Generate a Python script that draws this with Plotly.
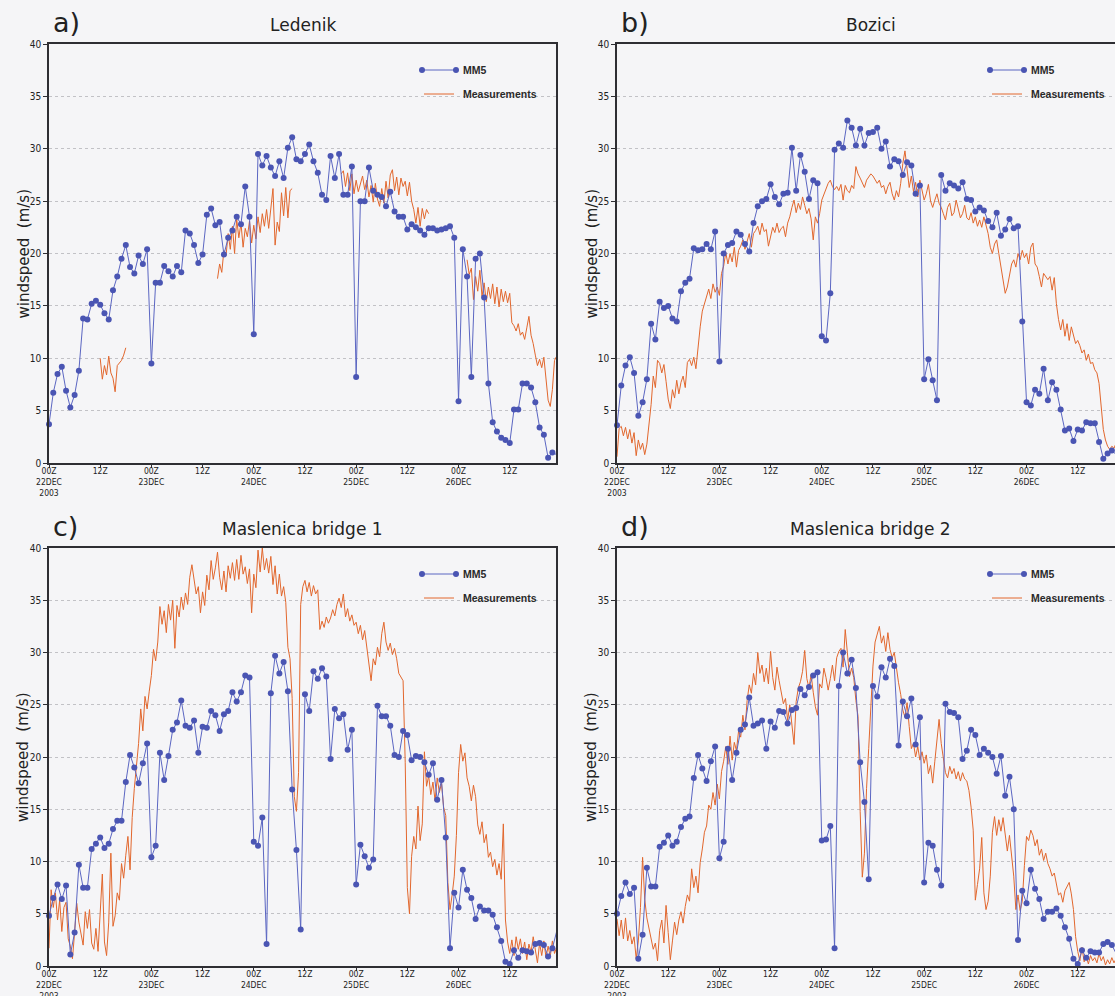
import numpy as np
import plotly.graph_objects as go

# ---------------- data (hours since 00Z 22 DEC 2003) ----------------
tick_hours = [0, 12, 24, 36, 48, 60, 72, 84, 96, 108]
tick_text = ["00Z<br>22DEC<br>2003", "12Z", "00Z<br>23DEC", "12Z", "00Z<br>24DEC",
             "12Z", "00Z<br>25DEC", "12Z", "00Z<br>26DEC", "12Z"]

station_names = ["Ledenik", "Bozici", "Maslenica bridge 1", "Maslenica bridge 2"]
panel_letters = ["a)", "b)", "c)", "d)"]

# MM5 hourly windspeed (m/s), hour 0 .. 119
mm5_a = [3.7, 6.7, 8.5, 9.2, 6.9, 5.3, 6.5, 8.8, 13.8, 13.7,
         15.2, 15.5, 15.1, 14.3, 13.7, 16.5, 17.8, 19.5, 20.8, 18.7,
         18.1, 19.8, 19.0, 20.4, 9.5, 17.2, 17.2, 18.8, 18.3, 17.8,
         18.8, 18.2, 22.2, 21.9, 20.8, 19.1, 19.9, 23.7, 24.3, 22.7,
         23.0, 19.9, 21.5, 22.2, 23.5, 22.8, 26.4, 23.5, 12.3, 29.5,
         28.4, 29.3, 28.2, 27.4, 28.8, 27.2, 30.1, 31.1, 29.0, 28.8,
         29.5, 30.4, 28.8, 27.7, 25.6, 25.1, 29.3, 27.2, 29.5, 25.6,
         25.6, 28.3, 8.2, 25.0, 25.0, 28.2, 26.0, 25.6, 25.4, 24.5,
         25.9, 24.0, 23.5, 23.5, 22.3, 22.8, 22.5, 22.2, 21.8, 22.4,
         22.4, 22.2, 22.3, 22.4, 22.6, 21.5, 5.9, 20.4, 17.8, 8.2,
         19.5, 20.0, 15.8, 7.6, 3.9, 3.0, 2.4, 2.2, 1.9, 5.1,
         5.1, 7.6, 7.6, 7.2, 5.8, 3.4, 2.7, 0.5, 1.0, 0.8]

mm5_b = [3.6, 7.4, 9.3, 10.1, 8.6, 4.5, 5.8, 8.0, 13.3, 11.8,
         15.4, 14.8, 15.0, 13.8, 13.5, 16.4, 17.2, 17.6, 20.5, 20.3,
         20.4, 20.9, 20.4, 22.1, 9.7, 20.0, 20.8, 21.0, 22.1, 21.8,
         20.9, 20.2, 22.9, 24.5, 25.0, 25.2, 26.6, 25.4, 24.7, 25.7,
         25.8, 30.1, 26.0, 29.4, 27.8, 25.2, 27.0, 26.7, 12.1, 11.7,
         16.2, 29.9, 30.5, 30.1, 32.7, 32.0, 30.3, 31.9, 30.3, 31.5,
         31.6, 32.0, 30.0, 30.7, 28.3, 29.0, 28.8, 27.5, 28.7, 28.4,
         25.7, 26.5, 8.0, 9.9, 7.9, 6.0, 27.5, 26.0, 26.7, 26.5,
         26.2, 26.8, 25.2, 25.1, 24.0, 24.4, 24.1, 23.1, 22.5, 23.9,
         21.7, 22.3, 23.3, 22.4, 22.6, 13.5, 5.8, 5.5, 7.0, 6.6,
         9.0, 6.0, 7.7, 7.0, 5.1, 3.1, 3.3, 2.1, 3.2, 3.1,
         3.9, 3.8, 3.8, 2.0, 0.4, 0.9, 1.2, 0.8, 1.0, 0.9]

mm5_c = [4.8, 6.5, 7.8, 6.4, 7.7, 1.1, 3.2, 9.7, 7.5, 7.5,
         11.2, 11.7, 12.3, 11.3, 11.7, 13.1, 13.9, 13.9, 17.6, 20.2,
         19.0, 17.5, 19.4, 21.3, 10.4, 11.5, 20.4, 17.8, 20.1, 22.6,
         23.3, 25.4, 23.0, 22.8, 23.5, 20.4, 22.9, 22.8, 24.4, 24.0,
         22.5, 24.1, 24.4, 26.2, 25.3, 26.2, 27.8, 27.6, 11.9, 11.5,
         14.2, 2.1, 26.1, 29.7, 28.0, 29.1, 26.3, 16.9, 11.1, 3.5,
         26.0, 24.4, 28.2, 27.5, 28.5, 27.7, 19.8, 24.6, 23.7, 24.1,
         20.7, 22.6, 7.8, 11.6, 10.5, 9.4, 10.2, 24.9, 23.9, 23.9,
         23.0, 20.2, 20.0, 22.5, 22.1, 19.7, 20.1, 20.0, 19.5, 18.3,
         19.4, 15.9, 17.8, 12.3, 1.7, 7.0, 5.6, 9.2, 7.3, 6.5,
         4.5, 5.7, 5.3, 5.3, 4.9, 3.7, 2.4, 0.4, 0.2, 1.5,
         0.8, 1.5, 1.4, 1.3, 2.1, 2.2, 2.0, 0.9, 1.7, 3.3]

mm5_d = [5.0, 6.7, 8.0, 6.9, 7.5, 0.7, 3.0, 9.4, 7.6, 7.6,
         11.4, 11.8, 12.5, 11.5, 11.9, 13.3, 14.1, 14.3, 18.0, 20.2,
         18.9, 17.7, 19.6, 21.0, 10.3, 11.9, 20.8, 17.8, 20.4, 22.6,
         23.1, 25.7, 23.0, 23.2, 23.5, 20.8, 23.4, 22.8, 24.4, 24.3,
         23.2, 24.5, 24.7, 26.5, 25.9, 26.7, 27.8, 28.1, 12.0, 12.1,
         13.4, 1.7, 26.8, 30.0, 28.0, 29.3, 26.6, 19.5, 15.7, 8.3,
         26.8, 25.8, 28.6, 27.6, 29.4, 28.7, 21.1, 25.3, 23.9, 25.6,
         21.2, 23.8, 8.0, 11.8, 11.5, 9.2, 7.7, 25.1, 24.3, 24.2,
         23.8, 19.8, 20.6, 22.6, 22.1, 20.2, 20.8, 20.4, 20.0, 18.4,
         20.1, 16.3, 18.1, 15.0, 2.5, 7.2, 6.0, 9.2, 7.4, 6.4,
         4.5, 5.2, 5.2, 5.5, 4.8, 3.7, 2.6, 0.7, 0.2, 1.5,
         0.8, 1.4, 1.3, 1.3, 2.1, 2.3, 2.0, 1.2, 1.8, 3.0]

# Measurements, half-hourly; each segment: (start hour, values)
meas_step = 0.5
meas_a_1_start = 12.0
meas_a_1 = [10.0, 8.0, 9.3, 8.4, 10.2, 8.6, 8.1, 6.8, 9.3, 9.5, 9.8, 10.3, 11.0]
meas_a_2_start = 39.5
meas_a_2 = [17.6, 19.0, 18.2, 20.3, 19.8, 21.9, 20.4, 22.6, 20.0, 23.3,
            21.5, 22.9, 20.6, 22.4, 21.6, 23.1, 21.0, 22.7, 21.4, 23.5,
            22.0, 23.8, 22.6, 24.2, 22.4, 24.6, 26.2, 20.8, 23.0, 22.1,
            25.8, 23.6, 26.3, 23.4, 26.0, 26.2]
meas_a_3_start = 68.5
meas_a_3 = [27.6, 27.9, 26.4, 27.7, 26.0, 27.6, 25.7, 27.0, 25.9, 26.8,
            27.4, 26.1, 27.0, 25.4, 26.5, 24.9, 26.7, 25.2, 24.5, 26.2,
            24.8, 26.9, 25.3, 27.5, 28.0, 26.0, 27.3, 25.6, 27.2, 26.4,
            26.9, 25.5, 26.8, 25.0, 24.2, 22.9, 24.4, 22.6, 24.3, 23.3,
            24.2, 23.8]
meas_a_4_start = 98.0
meas_a_4 = [19.4, 18.0, 18.6, 15.6, 17.8, 16.4, 18.4, 15.9, 17.2, 15.4,
            16.8, 15.7, 17.1, 15.2, 16.8, 14.9, 16.6, 15.4, 16.4, 15.3,
            16.2, 13.4, 13.1, 12.6, 13.3, 12.2, 12.5, 11.8, 12.9, 14.0,
            12.2, 11.4, 10.3, 9.3, 9.9, 9.1, 10.1, 8.0, 6.0, 5.4,
            7.0, 9.8, 10.2]

meas_b_start = 0.0
meas_b = [0.6, 3.3, 3.5, 2.6, 3.4, 2.3, 3.2, 1.9, 2.9, 0.7,
          2.2, 1.3, 1.9, 0.8, 1.8, 3.8, 5.6, 8.3, 7.2, 9.8,
          9.5, 8.6, 9.4, 7.8, 6.1, 5.2, 7.0, 6.2, 7.9, 6.6,
          7.7, 8.3, 7.2, 9.6, 9.9, 9.3, 10.1, 9.0, 11.3, 13.0,
          14.5, 15.2, 15.9, 16.6, 15.7, 17.1, 16.3, 16.8, 16.0, 18.1,
          18.8, 20.1, 19.0, 20.0, 19.2, 20.6, 18.7, 20.3, 20.7, 21.3,
          20.4, 21.3, 21.9, 20.6, 21.9, 22.2, 22.6, 21.8, 22.9, 22.1,
          22.3, 20.7, 21.6, 22.5, 22.0, 22.9, 22.0, 22.4, 22.6, 21.6,
          22.9, 23.5, 24.4, 25.1, 23.9, 24.8, 24.2, 25.4, 24.6, 23.8,
          24.3, 23.3, 21.3, 23.5, 22.9, 23.8, 25.1, 25.7, 26.3, 26.7,
          27.0, 26.4, 26.1, 26.4, 26.0, 26.6, 25.1, 26.5, 26.0, 25.8,
          26.5, 26.2, 28.3, 27.6, 27.2, 26.8, 26.3, 27.0, 27.3, 27.6,
          27.4, 27.1, 26.7, 27.0, 26.3, 26.5, 25.7, 26.4, 26.8, 25.7,
          25.1, 26.0, 25.4, 26.7, 28.6, 29.8, 28.1, 26.3, 27.4, 25.9,
          26.8, 25.4, 27.0, 26.1, 25.1, 25.7, 26.6, 25.0, 24.4, 25.1,
          25.7, 24.8, 24.4, 23.8, 23.2, 24.4, 24.8, 23.6, 23.9, 25.1,
          24.1, 23.4, 23.8, 24.6, 23.4, 23.2, 23.9, 22.9, 23.5, 22.6,
          23.2, 22.5, 23.5, 22.6, 21.9, 20.6, 20.0, 20.9, 21.3, 20.0,
          18.7, 17.5, 16.2, 16.8, 18.1, 19.0, 19.4, 18.7, 20.0, 19.4,
          20.3, 19.6, 20.0, 19.0, 20.6, 21.0, 19.0, 18.7, 17.8, 16.8,
          18.1, 17.8, 17.5, 17.8, 16.5, 17.7, 15.2, 13.7, 12.7, 13.7,
          12.1, 13.3, 11.7, 13.0, 12.2, 11.4, 11.7, 11.2, 10.5, 10.8,
          9.8, 10.4, 9.5, 9.6, 8.9, 8.6, 7.6, 5.4, 3.2, 2.2,
          1.6, 1.3, 1.6, 1.4, 1.9, 1.5, 2.0, 1.6, 1.8]

meas_c_start = 0.0
meas_c = [1.7, 7.3, 5.6, 7.0, 4.4, 6.3, 3.3, 5.6, 6.1, 2.6,
          1.9, 0.7, 3.2, 6.0, 4.2, 3.0, 2.0, 5.2, 3.6, 5.4,
          2.2, 1.6, 3.6, 1.4, 5.6, 8.8, 2.3, 1.0, 4.2, 10.8,
          3.8, 4.8, 7.0, 6.3, 9.8, 8.4, 10.6, 12.4, 9.2, 14.2,
          17.0, 19.4, 21.3, 24.6, 22.5, 25.8, 24.6, 26.3, 27.8, 30.3,
          29.2, 31.0, 34.4, 32.7, 34.0, 31.9, 34.6, 33.1, 35.0, 30.4,
          34.5, 33.4, 35.3, 34.1, 35.7, 34.6, 37.2, 38.4, 36.9, 35.6,
          36.3, 33.8, 35.8, 34.5, 37.4, 36.0, 38.8, 37.0, 38.1, 39.6,
          37.2, 36.0, 37.8, 35.8, 38.3, 37.1, 38.6, 36.9, 38.9, 37.0,
          39.3, 37.5, 38.2, 36.6, 38.0, 33.8, 37.5, 36.2, 39.8, 37.7,
          40.0, 37.9, 39.0, 37.6, 39.2, 36.5, 38.3, 35.6, 37.5, 35.4,
          36.3, 34.8, 30.5, 29.4, 25.6, 16.2, 14.8, 18.5, 34.6, 36.3,
          36.9, 35.8, 36.7, 35.4, 36.4, 35.6, 36.0, 32.2, 33.0, 32.4,
          33.4, 32.8, 33.3, 34.1, 33.5, 34.6, 35.2, 34.3, 35.6, 33.4,
          34.2, 33.0, 33.6, 32.6, 32.9, 31.8, 32.6, 31.2, 32.1, 30.3,
          28.6, 27.3, 29.4, 28.8, 30.5, 29.6, 31.8, 32.9, 31.0, 30.2,
          30.9, 29.8, 30.4, 29.4, 28.0, 27.6, 27.3, 19.5, 7.5, 5.0,
          10.5, 12.4, 11.2, 15.3, 12.0, 13.6, 20.5, 17.2, 18.2, 16.4,
          17.6, 15.8, 18.0, 16.6, 17.5, 15.2, 14.4, 8.0, 5.4, 6.8,
          8.6, 12.5, 18.5, 21.2, 19.6, 20.4, 18.0, 17.2, 15.8, 17.3,
          16.2, 13.5, 12.6, 13.8, 11.8, 12.6, 10.4, 10.9, 9.5, 10.2,
          8.7, 9.8, 8.3, 13.6, 4.4, 2.3, 1.2, 2.5, 1.0, 2.8,
          1.6, 2.6, 1.2, 2.3, 0.6, 2.1, 1.3, 2.8, 1.4, 0.3,
          2.2, 1.0, 2.4, 0.8, 1.9, 0.9, 2.4, 1.2, 1.8]

meas_d_start = 0.0
meas_d = [4.5, 2.9, 4.4, 2.6, 4.6, 2.4, 3.4, 2.1, 2.8, 0.7,
          2.4, 5.6, 10.4, 6.4, 4.6, 3.6, 2.6, 1.6, 2.2, 0.5,
          3.4, 4.4, 2.2, 5.8, 3.2, 0.6, 2.4, 4.2, 3.0, 4.4,
          5.2, 4.1, 5.7, 6.8, 6.2, 9.3, 7.5, 8.6, 7.0, 9.9,
          11.2, 12.8, 13.4, 15.4, 15.0, 16.6, 15.4, 17.4, 16.0, 18.6,
          19.6, 21.0, 19.3, 22.0, 19.7, 21.4, 20.6, 22.5, 21.9, 24.0,
          22.6, 25.4, 26.9, 26.1, 28.0, 26.9, 30.0, 28.0, 28.8, 27.2,
          28.5, 27.0, 30.1, 27.6, 26.4, 28.6, 27.3, 26.0, 25.1, 25.6,
          23.5, 25.0, 22.9, 21.2, 25.3, 26.6, 27.2, 28.2, 30.2, 27.5,
          26.6, 27.9, 26.2, 24.8, 24.0, 27.0, 26.6, 28.5, 27.6, 26.4,
          27.5, 28.8, 27.3, 29.5, 30.1, 30.4, 28.6, 32.2, 30.0, 27.7,
          28.5, 27.6, 25.4, 23.9, 14.8, 8.5, 10.8, 17.0, 20.8, 25.5,
          28.7, 31.0, 31.8, 32.5, 30.9, 31.6, 30.1, 31.9, 30.3, 29.5,
          30.0, 28.3, 27.1, 26.0, 24.5, 23.8, 25.2, 22.9, 20.8, 21.3,
          20.0, 21.0, 19.7, 20.5, 19.4, 20.2, 18.4, 19.2, 17.5, 19.6,
          22.0, 23.6, 21.3, 19.8, 18.5, 18.0, 19.1, 18.4, 18.9, 17.9,
          18.6, 17.7, 18.5, 17.9, 17.7, 16.8, 15.2, 13.0, 6.3, 7.8,
          9.3, 12.3, 7.0, 5.4, 6.2, 8.6, 12.8, 14.3, 12.5, 14.0,
          12.9, 14.2, 12.4, 11.0, 12.5, 10.4, 8.6, 5.4, 6.8, 5.3,
          6.2, 9.6, 12.4, 12.0, 13.0, 12.5, 11.5, 12.1, 10.6, 11.2,
          10.1, 10.8, 9.8, 9.3, 8.6, 8.9, 7.8, 6.8, 7.0, 6.1,
          7.2, 7.6, 8.0, 6.9, 5.4, 2.8, 1.4, 0.5, 1.8, 0.4,
          0.9, 0.2, 1.0, 0.5, 0.8, 0.3, 1.2, 0.5, 0.9, 0.1,
          0.6, 0.2, 0.8, 0.3, 0.7, 0.2, 0.6, 0.3, 0.5]

# ---------------- styling / layout ----------------
W, H = 1115, 996
PX_PER_HOUR = 4.266
BLUE = "#4a55b3"
BLUE_LINE = "#5b66c2"
ORANGE = "#e2672d"
BG = "#f5f5f7"
AXIS = "#2e2e33"
TICKFONT = "Liberation Sans Narrow, DejaVu Sans Condensed, Arial Narrow, sans-serif"
TITLEFONT = "DejaVu Sans, Noto Sans, sans-serif"
LEGFONT = "Liberation Sans, Arial, sans-serif"


def fx(x):
    return x / W


def fy(y):
    return 1 - y / H


panels = [
    dict(mm5=mm5_a, meas=[(meas_a_1_start, meas_a_1), (meas_a_2_start, meas_a_2),
                          (meas_a_3_start, meas_a_3), (meas_a_4_start, meas_a_4)],
         box=(49, 556, 44, 463), full=True),
    dict(mm5=mm5_b, meas=[(meas_b_start, meas_b)], box=(617, 1115, 44, 463), full=False),
    dict(mm5=mm5_c, meas=[(meas_c_start, meas_c)], box=(49, 556, 548, 966), full=True),
    dict(mm5=mm5_d, meas=[(meas_d_start, meas_d)], box=(617, 1115, 548, 966), full=False),
]

fig = go.Figure()
annotations = []
shapes = []
layout_axes = {}

for i, p in enumerate(panels):
    n = "" if i == 0 else str(i + 1)
    xa, ya = "x" + n, "y" + n
    x0, x1, y0, y1 = p["box"]

    # measurements (segments separated by gaps)
    mx, my = [], []
    for start, vals in p["meas"]:
        t = start + meas_step * np.arange(len(vals))
        if mx:
            mx.append(None)
            my.append(None)
        mx.extend(t.tolist())
        my.extend(vals)
    fig.add_trace(go.Scatter(x=mx, y=my, mode="lines", name="Measurements",
                             line=dict(color=ORANGE, width=1), xaxis=xa, yaxis=ya,
                             showlegend=False, connectgaps=False))
    fig.add_trace(go.Scatter(x=np.arange(len(p["mm5"])), y=p["mm5"], mode="lines+markers",
                             name="MM5", line=dict(color=BLUE_LINE, width=1),
                             marker=dict(color=BLUE, size=6), cliponaxis=False,
                             xaxis=xa, yaxis=ya, showlegend=False))

    xmax = (x1 - x0) / PX_PER_HOUR
    layout_axes["xaxis" + n] = dict(
        domain=[fx(x0), fx(x1)], range=[0, xmax], anchor=ya, automargin=False,
        tickmode="array", tickvals=tick_hours, ticktext=tick_text, tickangle=0,
        ticks="outside", ticklen=3, tickcolor=AXIS, tickwidth=1,
        showline=True, linecolor=AXIS, linewidth=1.5, mirror=True,
        showgrid=False, zeroline=False, ticklabelstandoff=-4,
        tickfont=dict(family=TICKFONT, size=8.5, color="#222"))
    layout_axes["yaxis" + n] = dict(
        domain=[fy(y1), fy(y0)], range=[0, 40], anchor=xa, automargin=False,
        tick0=0, dtick=5, ticks="outside", ticklen=4, tickcolor=AXIS, tickwidth=1,
        showline=True, linecolor=AXIS, linewidth=1.5, mirror=p["full"],
        showgrid=True, gridcolor="#c2c2c6", griddash="dot", gridwidth=1,
        zeroline=False, tickfont=dict(family=TICKFONT, size=10, color="#222"))

    # panel letter, station title, y-axis title
    annotations.append(dict(text=panel_letters[i], x=fx(x0 + 2), y=fy(y0 - 22),
                            xref="paper", yref="paper", xanchor="left", yanchor="middle",
                            showarrow=False, font=dict(family=TITLEFONT, size=27, color="#222")))
    annotations.append(dict(text=station_names[i], x=fx(x0 + 253.5), y=fy(y0 - 19),
                            xref="paper", yref="paper", xanchor="center", yanchor="middle",
                            showarrow=False, font=dict(family=TITLEFONT, size=17, color="#222")))
    annotations.append(dict(text="windspeed  (m/s)", x=fx(x0 - 26), y=fy((y0 + y1) / 2),
                            xref="paper", yref="paper", xanchor="center", yanchor="middle",
                            textangle=-90, showarrow=False,
                            font=dict(family=TITLEFONT, size=15, color="#222")))

    # legend (drawn in paper space)
    lx, ly = x0 + 373, y0 + 26
    shapes.append(dict(type="line", xref="paper", yref="paper", x0=fx(lx), x1=fx(lx + 34),
                       y0=fy(ly), y1=fy(ly), line=dict(color=BLUE_LINE, width=1)))
    for cx in (lx, lx + 34):
        shapes.append(dict(type="circle", xref="paper", yref="paper",
                           x0=fx(cx - 3), x1=fx(cx + 3), y0=fy(ly + 3), y1=fy(ly - 3),
                           fillcolor=BLUE, line=dict(color=BLUE, width=0)))
    shapes.append(dict(type="line", xref="paper", yref="paper", x0=fx(lx + 2), x1=fx(lx + 32),
                       y0=fy(ly + 24), y1=fy(ly + 24), line=dict(color=ORANGE, width=1)))
    annotations.append(dict(text="<b>MM5</b>", x=fx(lx + 39), y=fy(ly), xref="paper", yref="paper",
                            xanchor="left", yanchor="middle", showarrow=False,
                            font=dict(family=LEGFONT, size=10.5, color="#2a2a2a")))
    annotations.append(dict(text="<b>Measurements</b>", x=fx(lx + 39), y=fy(ly + 24),
                            xref="paper", yref="paper", xanchor="left", yanchor="middle",
                            showarrow=False,
                            font=dict(family=LEGFONT, size=10.5, color="#2a2a2a")))

fig.update_layout(
    width=W, height=H, autosize=False,
    margin=dict(l=0, r=0, t=0, b=0, pad=0),
    paper_bgcolor=BG, plot_bgcolor=BG,
    showlegend=False,
    annotations=annotations, shapes=shapes,
    **layout_axes)

fig.write_html("out.html", config={"displayModeBar": False})

# remove the browser's default 8px page margin so the figure fills the window exactly
with open("out.html", "r", encoding="utf-8") as fh:
    html = fh.read()
html = html.replace("<head>", "<head><style>html,body{margin:0;padding:0;overflow:hidden;background:%s}</style>" % BG, 1)
with open("out.html", "w", encoding="utf-8") as fh:
    fh.write(html)
